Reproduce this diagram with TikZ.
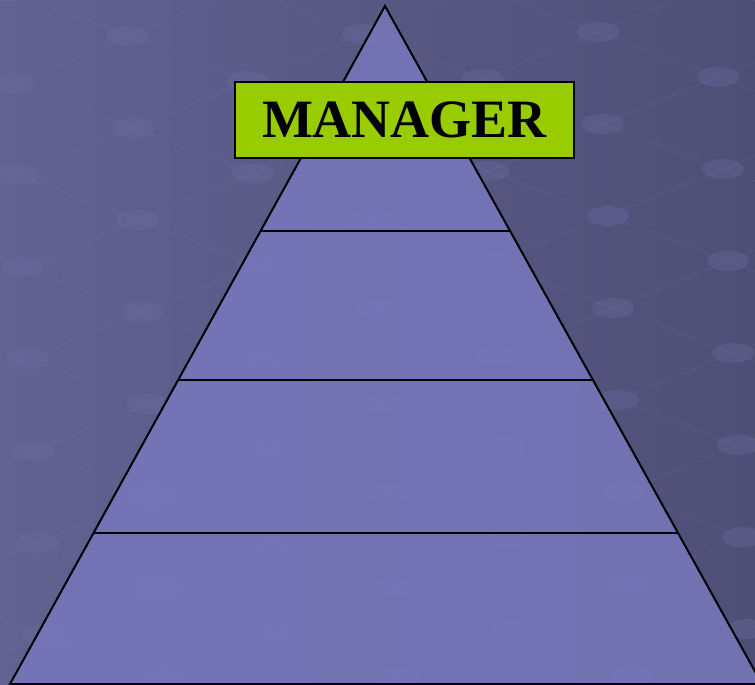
\documentclass[tikz,border=0pt]{standalone}
\usepackage{fontspec}
\setmainfont{Liberation Serif}
\usetikzlibrary{calc}
\definecolor{bgA}{HTML}{626292}
\definecolor{bgB}{HTML}{4E4E76}
\definecolor{dotc}{HTML}{6A6A9E}
\definecolor{gridc}{HTML}{7A7AAE}
\definecolor{pyr}{HTML}{7676BA}
\definecolor{mgr}{HTML}{99CC00}
\tikzset{
  edge/.style={draw=black, line width=2pt, line join=miter},
  divider/.style={draw=black, line width=1.8pt},
  dotstyle/.style={fill=dotc, opacity=0.4},
  gridline/.style={draw=gridc, line width=0.8pt, opacity=0.22},
  titlebox/.style={draw=black, line width=1.3pt, fill=mgr, minimum width=339pt, minimum height=76pt, inner sep=0pt, font=\fontsize{54}{60}\selectfont\bfseries, text=black}
}
\begin{document}
\begin{tikzpicture}[x=1pt, y=-1pt]
\useasboundingbox (0,0) rectangle (755,685);
\begin{scope}
\clip (0,0) rectangle (755,685);
\shade[left color=bgA, right color=bgB] (0,0) rectangle (755,685);
\foreach \i in {-7,...,7} {
  \draw[gridline] ({378+120*\i-115*8},{310+45*\i+47*8}) -- ({378+120*\i+115*8},{310+45*\i-47*8});
  \draw[gridline] ({378-120*8+115*\i},{310-45*8-47*\i}) -- ({378+120*8+115*\i},{310+45*8-47*\i});
}
\foreach \i in {-7,...,7} {
  \foreach \j in {-7,...,7} {
    \fill[dotstyle] ({378+120*\i+115*\j},{310+45*\i-47*\j}) ellipse (21pt and 10pt);
  }
}
\coordinate (apex) at (385,6);
\coordinate (bl) at (10,684);
\coordinate (br) at (762,684);
\fill[pyr, opacity=0.9] (apex) -- (bl) -- (br) -- cycle;
\draw[edge] (apex) -- (bl) -- (br) -- cycle;
\coordinate (l1) at ($(apex)!0.3319!(bl)$);
\coordinate (r1) at ($(apex)!0.3319!(br)$);
\coordinate (l2) at ($(apex)!0.5516!(bl)$);
\coordinate (r2) at ($(apex)!0.5516!(br)$);
\coordinate (l3) at ($(apex)!0.7773!(bl)$);
\coordinate (r3) at ($(apex)!0.7773!(br)$);
\draw[divider] (l1) -- (r1);
\draw[divider] (l2) -- (r2);
\draw[divider] (l3) -- (r3);
\end{scope}
\node[titlebox] (manager) at (404.5,120) {MANAGER};
\end{tikzpicture}
\end{document}
